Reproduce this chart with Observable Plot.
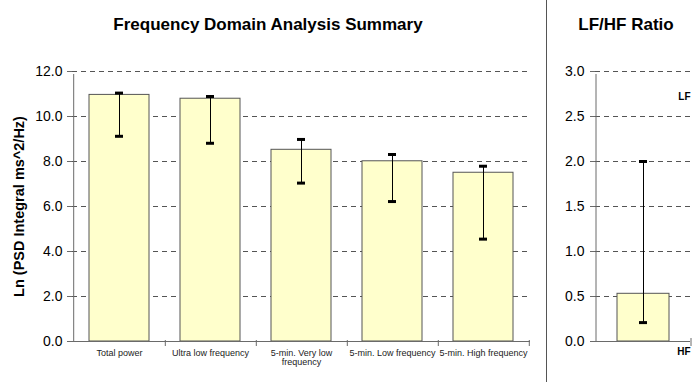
<!DOCTYPE html>
<html><head><meta charset="utf-8">
<script src="https://cdn.jsdelivr.net/npm/d3@7"></script>
<script src="https://cdn.jsdelivr.net/npm/@observablehq/plot@0.6"></script>
<style>
body{margin:0;background:#fff;}
#wrap{position:relative;width:700px;height:382px;overflow:hidden;font-family:"Liberation Sans",Arial,sans-serif;background:#fff;}
.title{position:absolute;top:15px;font-weight:bold;font-size:17px;line-height:20px;text-align:center;color:#000;white-space:nowrap;}
#divider{position:absolute;left:546px;top:0;width:1px;height:382px;background:#555;}
#wrap svg{position:absolute;top:0;}
</style></head><body><div id="wrap"></div>
<script>
const categories = ["Total power","Ultra low frequency","5-min. Very low frequency","5-min. Low frequency","5-min. High frequency"];
const tickLabels = ["Total power","Ultra low frequency","5-min. Very low\nfrequency","5-min. Low frequency","5-min. High frequency"];
const means = [10.96, 10.79, 8.52, 8.01, 7.50];
const lows = [9.12, 8.81, 7.04, 6.22, 4.55];
const highs = [11.04, 10.89, 8.98, 8.31, 7.79];
const yTicks = [0, 2, 4, 6, 8, 10, 12];
const ratioCategory = ["LF/HF"];
const ratioMean = [0.53];
const ratioLow = [0.21];
const ratioHigh = [2.0];
const ratioTicks = [0, 0.5, 1, 1.5, 2, 2.5, 3];
const titles = ["Frequency Domain Analysis Summary", "LF/HF Ratio"];
const yLabel = "Ln (PSD Integral ms^2/Hz)";
const ratioLabels = ["LF", "HF"];

const FONT = '"Liberation Sans", Arial, sans-serif';
const AXIS = "#6a6a6a";
const GRID = "#555";
const H = 382, mT = 71, mB = 41;

const wrap = document.getElementById("wrap");

// ---- left chart ----
const W1 = 546, mL1 = 72, mR1 = 16;
const step1 = (W1 - mL1 - mR1) / categories.length;
const rows = categories.map((c, i) => ({c, m: means[i], lo: lows[i], hi: highs[i]}));
const capInset1 = 26;

const left = Plot.plot({
  width: W1, height: H, marginLeft: mL1, marginRight: mR1, marginTop: mT, marginBottom: mB,
  style: {fontFamily: FONT, fontSize: "14px", color: "#000", background: "transparent", overflow: "visible"},
  x: {type: "band", domain: categories, paddingInner: 0.345, paddingOuter: 0.1725, axis: null, label: null},
  y: {domain: [0, 12], axis: null, label: null},
  marks: [
    Plot.gridY(yTicks.filter(d => d > 0), {stroke: GRID, strokeOpacity: 1, strokeDasharray: "5,4"}),
    Plot.barY(rows, {x: "c", y: "m", fill: "#FFFFCC", stroke: "#555", strokeWidth: 1}),
    Plot.ruleX(rows, {x: "c", y1: "lo", y2: "hi", stroke: "#000", strokeWidth: 1}),
    Plot.tickY(rows, {x: "c", y: "hi", stroke: "#000", strokeWidth: 3, insetLeft: capInset1, insetRight: capInset1}),
    Plot.tickY(rows, {x: "c", y: "lo", stroke: "#000", strokeWidth: 3, insetLeft: capInset1, insetRight: capInset1}),
    Plot.ruleY([0], {stroke: AXIS}),
    Plot.ruleX([categories[0]], {x: d => d, dx: -step1 / 2, y1: 0, y2: 12, insetBottom: -3, stroke: AXIS}),
    Plot.ruleX(categories, {x: d => d, dx: step1 / 2, y1: 0, y2: 0, insetTop: -1, insetBottom: -5, stroke: AXIS}),
    Plot.axisY(yTicks, {tickSize: 5, tickPadding: 5, tickFormat: d3.format(".1f"), stroke: AXIS, fill: "#000", fontSize: 14, label: null}),
    Plot.axisX(categories, {tickSize: 0, tickPadding: 8, tickFormat: d => tickLabels[categories.indexOf(d)],
      fontSize: 9, fill: "#222", label: null}),
    Plot.text([yLabel], {frameAnchor: "left", textAnchor: "middle", lineAnchor: "middle", rotate: -90, dx: -53, text: d => d, fontWeight: "bold", fontSize: 14.5, fill: "#000"})
  ]
});
left.style.left = "0px";
wrap.appendChild(left);

// ---- right chart ----
const W2 = 153, mL2 = 48, mR2 = 10;
const step2 = (W2 - mL2 - mR2) / ratioCategory.length;
const rrows = ratioCategory.map((c, i) => ({c, m: ratioMean[i], lo: ratioLow[i], hi: ratioHigh[i]}));
const capInset2 = 22;

const right = Plot.plot({
  width: W2, height: H, marginLeft: mL2, marginRight: mR2, marginTop: mT, marginBottom: mB,
  style: {fontFamily: FONT, fontSize: "14px", color: "#000", background: "transparent", overflow: "visible"},
  x: {type: "band", domain: ratioCategory, paddingInner: 0.453, paddingOuter: 0.2265, axis: null, label: null},
  y: {domain: [0, 3], axis: null, label: null},
  marks: [
    Plot.gridY(ratioTicks.filter(d => d > 0), {stroke: GRID, strokeOpacity: 1, strokeDasharray: "5,4"}),
    Plot.barY(rrows, {x: "c", y: "m", fill: "#FFFFCC", stroke: "#555", strokeWidth: 1}),
    Plot.ruleX(rrows, {x: "c", y1: "lo", y2: "hi", stroke: "#000", strokeWidth: 1}),
    Plot.tickY(rrows, {x: "c", y: "hi", stroke: "#000", strokeWidth: 3, insetLeft: capInset2, insetRight: capInset2}),
    Plot.tickY(rrows, {x: "c", y: "lo", stroke: "#000", strokeWidth: 3, insetLeft: capInset2, insetRight: capInset2}),
    Plot.ruleY([0], {stroke: AXIS}),
    Plot.ruleX([ratioCategory[0]], {x: d => d, dx: -step2 / 2, y1: 0, y2: 3, insetBottom: -3, stroke: AXIS}),
    Plot.ruleX(ratioCategory, {x: d => d, dx: step2 / 2, y1: 0, y2: 0, insetTop: -3, insetBottom: -5, stroke: AXIS}),
    Plot.axisY(ratioTicks, {tickSize: 5, tickPadding: 6, tickFormat: d3.format(".1f"), stroke: AXIS, fill: "#000", fontSize: 14, label: null}),
    Plot.text([ratioLabels[0]], {frameAnchor: "top-right", textAnchor: "end", lineAnchor: "middle", dy: 25, text: d => d, fontWeight: "bold", fontSize: 10, fill: "#000"}),
    Plot.text([ratioLabels[1]], {frameAnchor: "bottom-right", textAnchor: "end", lineAnchor: "middle", dy: 10, text: d => d, fontWeight: "bold", fontSize: 10, fill: "#000"})
  ]
});
right.style.left = "547px";
wrap.appendChild(right);

// ---- titles & divider ----
const t1 = document.createElement("div");
t1.className = "title"; t1.textContent = titles[0];
t1.style.left = "68px"; t1.style.width = "400px";
wrap.appendChild(t1);
const t2 = document.createElement("div");
t2.className = "title"; t2.textContent = titles[1];
t2.style.left = "546px"; t2.style.width = "160px";
wrap.appendChild(t2);
const dv = document.createElement("div");
dv.id = "divider";
wrap.appendChild(dv);
</script>
</body></html>
